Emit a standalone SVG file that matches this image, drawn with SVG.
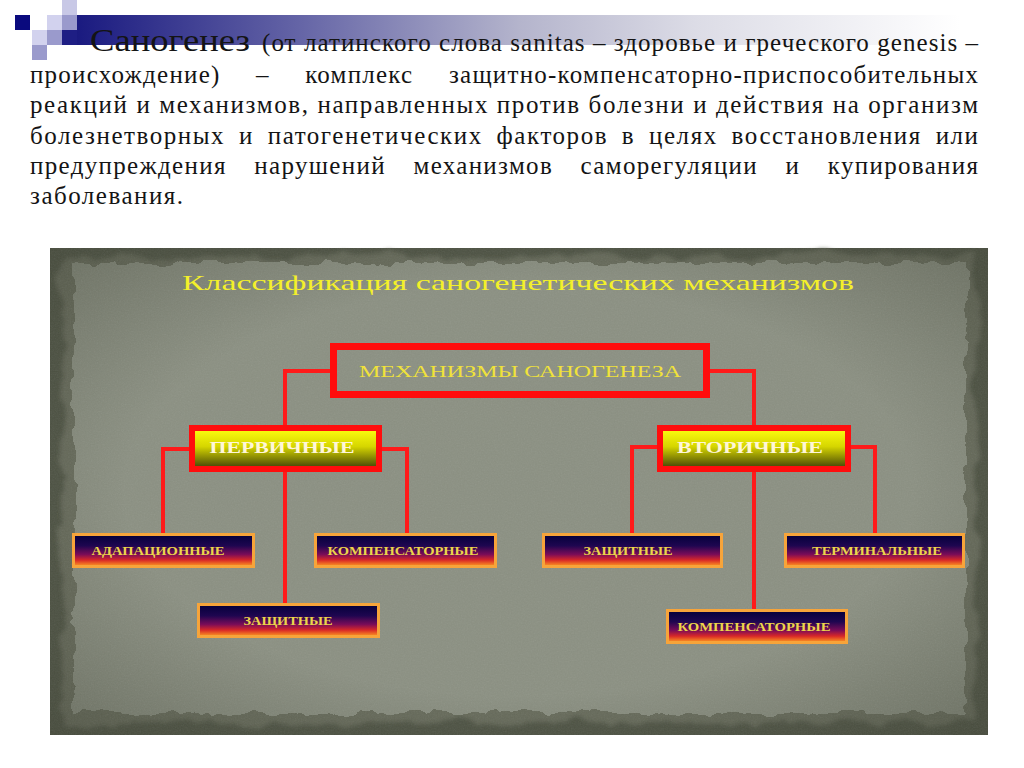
<svg xmlns="http://www.w3.org/2000/svg" width="1024" height="768" viewBox="0 0 1024 768">
<defs>
<style>
.body{font-family:"Liberation Serif","DejaVu Serif",serif;font-size:25px;fill:#141414}
.conn{fill:none;stroke:#ff1a1a;stroke-width:4}
.big{fill:url(#gY);stroke:#ff0d0d;stroke-width:6}
.small{fill:url(#gS);stroke:#f7a43a;stroke-width:3}
.lbl{font-family:"Liberation Serif","DejaVu Serif",serif;font-weight:bold;font-size:11.5px;fill:#ecd64a;text-anchor:middle}
.mid{font-family:"Liberation Serif","DejaVu Serif",serif;font-size:17px;font-weight:bold;fill:#fff6d8;text-anchor:middle}
</style>
<linearGradient id="gY" x1="0" y1="0" x2="0" y2="1"><stop offset="0" stop-color="#ffff10"/><stop offset="0.45" stop-color="#d6d600"/><stop offset="1" stop-color="#3c3c08"/></linearGradient>
<linearGradient id="gS" x1="0" y1="0" x2="0" y2="1"><stop offset="0" stop-color="#04003a"/><stop offset="0.35" stop-color="#1e0650"/><stop offset="0.62" stop-color="#7a0c58"/><stop offset="0.8" stop-color="#d82828"/><stop offset="1" stop-color="#ffa020"/></linearGradient>
<linearGradient id="gBar" gradientUnits="userSpaceOnUse" x1="77" y1="0" x2="960" y2="0"><stop offset="0" stop-color="#1a1a80"/><stop offset="0.25" stop-color="#6464a6"/><stop offset="0.5" stop-color="#b4b4cc"/><stop offset="0.7" stop-color="#dcdce6"/><stop offset="1" stop-color="#ffffff"/></linearGradient>
<radialGradient id="vig" cx="0.5" cy="0.5" r="0.7"><stop offset="0.6" stop-color="#3c4032" stop-opacity="0"/><stop offset="1" stop-color="#3c4032" stop-opacity="0.4"/></radialGradient>
<filter id="torn" x="-5%" y="-5%" width="110%" height="110%"><feTurbulence type="fractalNoise" baseFrequency="0.05" numOctaves="3" seed="4" result="n"/><feDisplacementMap in="SourceGraphic" in2="n" scale="14" xChannelSelector="R" yChannelSelector="G"/></filter>
<filter id="rim" x="-5%" y="-5%" width="110%" height="110%"><feTurbulence type="fractalNoise" baseFrequency="0.03" numOctaves="3" seed="9" result="n"/><feDisplacementMap in="SourceGraphic" in2="n" scale="20" xChannelSelector="R" yChannelSelector="G" result="d"/><feGaussianBlur in="d" stdDeviation="2"/></filter>
<filter id="grain" x="0" y="0" width="100%" height="100%"><feTurbulence type="fractalNoise" baseFrequency="0.7" numOctaves="2" seed="2"/><feColorMatrix type="saturate" values="0"/></filter>
</defs>

<g id="decoration">
<rect x="77" y="15" width="883" height="30" fill="url(#gBar)"/>
<rect x="62" y="0" width="15" height="15" fill="#c8c8e6"/>
<rect x="15" y="15" width="15" height="15" fill="#0a0a7e"/>
<rect x="47" y="15" width="15" height="15" fill="#d2d2ee"/>
<rect x="62" y="15" width="15" height="15" fill="#9a9acc"/>
<rect x="32" y="30" width="15" height="15" fill="#d2d2ee"/>
<rect x="47" y="30" width="15" height="15" fill="#9a9acc"/>
<rect x="62" y="30" width="15" height="15" fill="#1e1e84"/>
<rect x="32" y="45" width="15" height="15" fill="#9a9acc"/>
</g>

<g id="intro">
<text x="90" y="51" font-family="Liberation Serif, DejaVu Serif, serif" font-size="32" fill="#141414" textLength="160" lengthAdjust="spacingAndGlyphs">Саногенез</text>
<text class="body" x="262" y="51" textLength="716" lengthAdjust="spacing">(от латинского слова sanitas – здоровье и греческого genesis –</text>
<text class="body" x="30" y="83" word-spacing="28" textLength="948" lengthAdjust="spacing">происхождение) – комплекс защитно-компенсаторно-приспособительных</text>
<text class="body" x="30" y="113" textLength="948" lengthAdjust="spacing">реакций и механизмов, направленных против болезни и действия на организм</text>
<text class="body" x="30" y="144" word-spacing="6" textLength="948" lengthAdjust="spacing">болезнетворных и патогенетических факторов в целях восстановления или</text>
<text class="body" x="30" y="174" word-spacing="20" textLength="948" lengthAdjust="spacing">предупреждения нарушений механизмов саморегуляции и купирования</text>
<text class="body" x="30" y="204" textLength="153" lengthAdjust="spacing">заболевания.</text>
</g>

<g id="panel">
<rect x="50" y="248" width="938" height="487" fill="#4f5445"/>
<rect x="62" y="256" width="914" height="468" fill="#676c5c" filter="url(#rim)"/>
<rect x="74" y="263" width="892" height="450" fill="#8b9082" filter="url(#torn)"/>
<rect x="50" y="248" width="938" height="487" fill="url(#vig)"/>
<rect x="50" y="248" width="938" height="487" filter="url(#grain)" opacity="0.1"/>
<text x="518" y="290" font-family="Liberation Serif, DejaVu Serif, serif" font-size="22" fill="#f4f02a" text-anchor="middle" textLength="672" lengthAdjust="spacingAndGlyphs">Классификация саногенетических механизмов</text>
</g>

<g id="connectors">
<path class="conn" d="M330 371H285V425"/>
<path class="conn" d="M710 371H754V425"/>
<path class="conn" d="M189 449H163V533"/>
<path class="conn" d="M382 449H407V533"/>
<path class="conn" d="M285 472V603"/>
<path class="conn" d="M657 447H632V533"/>
<path class="conn" d="M851 447H875V533"/>
<path class="conn" d="M754 472V609"/>
</g>

<g id="n-root">
<rect x="333.5" y="346.5" width="373" height="48" fill="none" stroke="#ff0d0d" stroke-width="7"/>
<text x="520" y="377" font-family="Liberation Serif, DejaVu Serif, serif" font-size="16" fill="#f0e23a" text-anchor="middle" textLength="322" lengthAdjust="spacingAndGlyphs">МЕХАНИЗМЫ САНОГЕНЕЗА</text>
</g>

<g id="n-primary">
<rect class="big" x="192" y="428" width="187" height="41"/>
<text class="mid" x="282" y="453" textLength="145" lengthAdjust="spacingAndGlyphs">ПЕРВИЧНЫЕ</text>
</g>

<g id="n-secondary">
<rect class="big" x="660" y="428" width="188" height="41"/>
<text class="mid" x="750" y="453" textLength="146" lengthAdjust="spacingAndGlyphs">ВТОРИЧНЫЕ</text>
</g>

<g id="n-adapt">
<rect class="small" x="73.5" y="534.5" width="180" height="32"/>
<text class="lbl" x="158" y="555" textLength="133" lengthAdjust="spacingAndGlyphs">АДАПАЦИОННЫЕ</text>
</g>

<g id="n-comp1">
<rect class="small" x="315.5" y="534.5" width="180" height="32"/>
<text class="lbl" x="403" y="555" textLength="151" lengthAdjust="spacingAndGlyphs">КОМПЕНСАТОРНЫЕ</text>
</g>

<g id="n-prot1">
<rect class="small" x="198.5" y="604.5" width="180" height="32"/>
<text class="lbl" x="288" y="625" textLength="89" lengthAdjust="spacingAndGlyphs">ЗАЩИТНЫЕ</text>
</g>

<g id="n-prot2">
<rect class="small" x="543.5" y="534.5" width="178" height="32"/>
<text class="lbl" x="628" y="555" textLength="89" lengthAdjust="spacingAndGlyphs">ЗАЩИТНЫЕ</text>
</g>

<g id="n-term">
<rect class="small" x="785.5" y="534.5" width="178" height="32"/>
<text class="lbl" x="877" y="555" textLength="130" lengthAdjust="spacingAndGlyphs">ТЕРМИНАЛЬНЫЕ</text>
</g>

<g id="n-comp2">
<rect class="small" x="667.5" y="610.5" width="179" height="32"/>
<text class="lbl" x="754" y="631" textLength="153" lengthAdjust="spacingAndGlyphs">КОМПЕНСАТОРНЫЕ</text>
</g>
</svg>
